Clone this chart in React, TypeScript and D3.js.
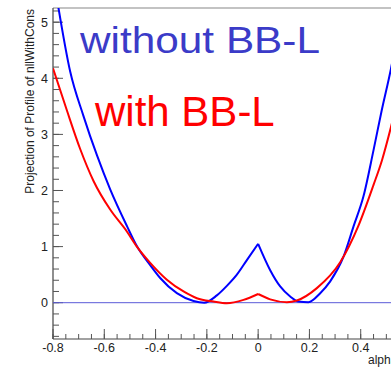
import React from "react";
import * as d3 from "d3";

// Profile of nllWithCons versus alpha, without the BB-L term
const blueAlpha = [-0.78, -0.733, -0.682, -0.628, -0.577, -0.511, -0.472, -0.421, -0.382, -0.317, -0.252, -0.21, -0.161, -0.122, -0.083, -0.044, 0, 0.047, 0.086, 0.125, 0.157, 0.196, 0.242, 0.281, 0.333, 0.372, 0.411, 0.45, 0.482, 0.517, 0.53];
const blueNll = [5.29, 4.12, 3.34, 2.62, 2.02, 1.36, 1.0, 0.67, 0.44, 0.17, 0.03, 0.0, 0.13, 0.3, 0.5, 0.76, 1.05, 0.58, 0.29, 0.11, 0.02, 0.01, 0.17, 0.38, 0.82, 1.36, 1.9, 2.72, 3.43, 4.15, 4.45];

// Same profile with the BB-L term included
const redAlpha = [-0.8, -0.746, -0.694, -0.642, -0.577, -0.512, -0.473, -0.421, -0.356, -0.291, -0.239, -0.174, -0.122, -0.057, 0, 0.047, 0.112, 0.151, 0.229, 0.32, 0.39, 0.45, 0.483, 0.518, 0.53];
const redNll = [4.18, 3.43, 2.74, 2.17, 1.66, 1.27, 1.0, 0.71, 0.41, 0.2, 0.08, 0.02, -0.01, 0.05, 0.155, 0.06, 0.01, 0.04, 0.26, 0.72, 1.36, 2.1, 2.54, 3.13, 3.35];

const xMajorTicks = [-0.8, -0.6, -0.4, -0.2, 0, 0.2, 0.4, 0.6];
const yMajorTicks = [0, 1, 2, 3, 4, 5];

const W = 391;
const H = 367;
const left = 53;
const right = 412;
const top = 8;
const bottom = 339;

export default function App() {
  const x = d3.scaleLinear().domain([-0.8, 0.6]).range([left, right]);
  const y = d3.scaleLinear().domain([-0.647, 5.253]).range([bottom, top]);

  const xMinor = d3.range(-0.8, 0.6001, 0.05).map((v) => +v.toFixed(2));
  const yMinor = d3.range(-0.6, 5.2001, 0.2).map((v) => +v.toFixed(2));

  type P = [number, number];
  const line = d3
    .line<P>()
    .x((d) => x(d[0]))
    .y((d) => y(d[1]))
    .curve(d3.curveMonotoneX);

  // each curve drawn as two branches so the kink at alpha = 0 stays sharp
  const branches = (xs: number[], ys: number[]) => {
    const pts: P[] = xs.map((v, i) => [v, ys[i]]);
    return [pts.filter((p) => p[0] <= 0), pts.filter((p) => p[0] >= 0)];
  };

  const blue = branches(blueAlpha, blueNll);
  const red = branches(redAlpha, redNll);

  const font = "'Liberation Sans', Arial, Helvetica, sans-serif";

  return (
    <svg
      width={W}
      height={H}
      style={{ position: "absolute", left: 0, top: 0, background: "#fff" }}
      fontFamily={font}
    >
      <defs>
        <clipPath id="frame">
          <rect x={left} y={top} width={right - left} height={bottom - top} />
        </clipPath>
      </defs>
      <rect x={0} y={0} width={W} height={H} fill="#fff" />

      {/* frame */}
      <line x1={left} x2={right} y1={top} y2={top} stroke="#888" strokeWidth={1.2} />
      <line x1={left} x2={left} y1={top} y2={bottom} stroke="#444" strokeWidth={1.2} />
      <line x1={left} x2={right} y1={bottom} y2={bottom} stroke="#444" strokeWidth={1.2} />

      {/* y ticks */}
      {yMinor.map((v) => (
        <line key={"ym" + v} x1={left} x2={left + 6} y1={y(v)} y2={y(v)} stroke="#555" strokeWidth={1} />
      ))}
      {yMajorTicks.map((v) => (
        <g key={"yM" + v}>
          <line x1={left} x2={left + 10} y1={y(v)} y2={y(v)} stroke="#555" strokeWidth={1} />
          <text x={left - 5} y={y(v)} dy="0.36em" textAnchor="end" fontSize={12.5} fill="#222">
            {v}
          </text>
        </g>
      ))}

      {/* x ticks */}
      {xMinor.map((v) => (
        <line key={"xm" + v} x1={x(v)} x2={x(v)} y1={bottom} y2={bottom - 5} stroke="#555" strokeWidth={1} />
      ))}
      {xMajorTicks.map((v) => (
        <g key={"xM" + v}>
          <line x1={x(v)} x2={x(v)} y1={bottom} y2={bottom - 10} stroke="#555" strokeWidth={1} />
          {x(v) + 9 < W && (
            <text x={x(v)} y={352} textAnchor="middle" fontSize={12.5} fill="#222">
              {v === 0 ? "0" : v.toFixed(1)}
            </text>
          )}
        </g>
      ))}

      {/* axis titles */}
      <text
        transform={`translate(34, 9) rotate(-90)`}
        textAnchor="end"
        fontSize={12}
        fill="#222"
      >
        Projection of Profile of nllWithCons
      </text>
      <text x={368} y={364} fontSize={12} fill="#222">
        alpha
      </text>

      <g clipPath="url(#frame)">
        {/* zero reference */}
        <line x1={left} x2={right} y1={y(0)} y2={y(0)} stroke="#5a5ad8" strokeWidth={1} />
        {blue.map((b, i) => (
          <path key={"b" + i} d={line(b) || ""} fill="none" stroke="#0000ff" strokeWidth={2} />
        ))}
        {red.map((b, i) => (
          <path key={"r" + i} d={line(b) || ""} fill="none" stroke="#ff0000" strokeWidth={2} />
        ))}
      </g>

      {/* legend labels */}
      <text x={80} y={53} fontSize={36} fill="#3b3bc8" textLength={240} lengthAdjust="spacingAndGlyphs">
        without BB-L
      </text>
      <text x={95} y={126} fontSize={42} fill="#ff0000">
        with BB-L
      </text>
    </svg>
  );
}
